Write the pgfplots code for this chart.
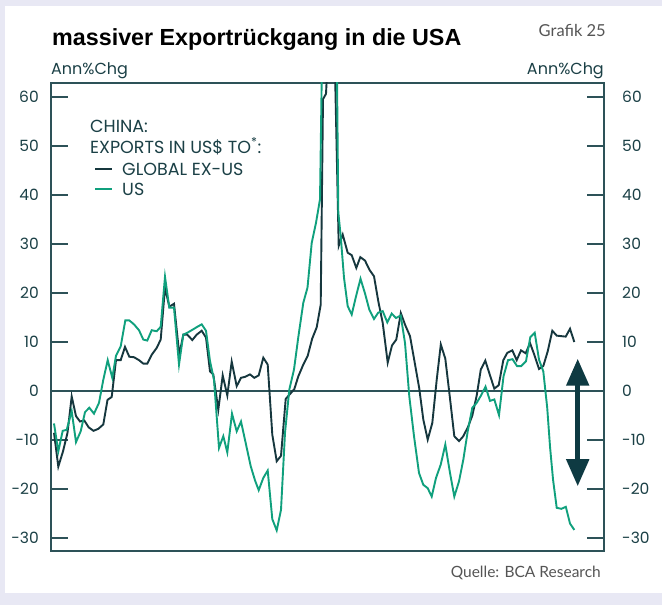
\documentclass[border=0pt]{standalone}
\usepackage{fontspec}
\setmainfont{Poppins}
\newfontfamily\titlefont{Liberation Sans}
\newfontfamily\notefont{Lato}
\usepackage{pgfplots}
\usepackage{pgfplotstable}
\pgfplotsset{compat=1.18}
\usetikzlibrary{arrows.meta}
\definecolor{lav}{RGB}{232,232,244}
\definecolor{darkline}{RGB}{22,55,62}
\definecolor{usgreen}{RGB}{16,160,125}
\definecolor{axiscol}{RGB}{45,82,88}
\definecolor{textcol}{RGB}{27,64,70}
\definecolor{arrowcol}{RGB}{14,58,66}
\definecolor{notecol}{RGB}{85,85,85}

\pgfplotstableread{
x y
54 -8.5
58.3 -15.4
63 -12.3
67.5 -8.5
71.7 -1.1
76 -5.1
80 -6.2
84.3 -6.0
88.7 -7.4
93.5 -8.1
98.3 -7.7
103.3 -6.8
107.5 -1.8
111.7 -1.2
116 6.3
120.7 6.3
125 9.0
129.3 7.0
134 6.9
139 6.3
143.3 5.6
147.3 5.6
151.7 7.4
156.7 8.8
160.7 10.5
165 21.1
169.3 17.2
174 17.8
179.3 7.4
183.3 11.5
187.3 11.5
192.3 10.4
196.7 11.5
201.7 12.3
206 10.9
210 4.0
213.3 3.4
218.3 -3.8
222.7 3.2
227.3 -0.9
231.7 6.0
236.7 1.0
241 2.7
245 2.9
250 3.4
254.3 2.7
258.7 3.2
263.3 6.8
267.7 5.4
272.3 -8.9
276.7 -14.3
281 -13.2
285.7 -1.6
290 -0.6
294.3 0.4
298.3 3.0
303.3 5.4
307.7 7.2
312.2 10.7
316.7 13.0
320.7 17.6
323 59.5
326 60.6
329.5 75
334 75
338.7 29.6
342.7 31.9
347.7 28.2
351.7 27.7
356.3 25.1
360.3 27.3
365 26.6
369.5 24.7
374 23.4
378.3 18.3
382.7 13.9
387.7 5.8
392 9.3
396.3 10.5
400.8 15.9
405.3 13.4
410 11.2
414.7 5.8
419.2 0.6
423.3 -5.8
427.7 -9.9
432.3 -6.5
436.7 2.3
440.8 9.5
445.3 6.6
449.7 -1.0
454.3 -9.2
459 -10.2
463.3 -9.2
468 -7.3
472.3 -5.0
476.7 -0.9
480.8 4.4
485.3 6.2
490 3.2
494.3 0.5
498.7 1.2
503.3 6.3
507.3 7.8
512.3 8.3
516.7 6.3
521 8.3
525.7 7.7
530 9.8
534.3 7.4
539 4.5
543.3 5.1
547.7 8.1
552.3 12.3
556.7 11.3
561 11.2
565.7 11.1
570 12.7
574.3 10.0
}\globaltab

\pgfplotstableread{
x y
54 -6.6
58.3 -12.3
62.7 -8.1
66.7 -7.9
71.7 -4.1
76 -10.4
80.7 -8.2
85 -4.3
89.3 -3.4
94 -4.6
99 -2.4
103.3 2.3
107.7 6.3
112.3 2.7
116 7.2
120.7 9.1
125.3 14.4
129.3 14.4
134 13.6
139 12.4
143.3 10.5
147.3 10.3
151.7 12.4
156.7 12.2
160.7 13.1
165 23.3
169.3 17.0
174 17.0
179 5.4
183.3 11.5
188.3 12.0
193.3 12.6
197.3 13.1
201.7 13.6
206 12.3
210 6.1
214 2.3
219 -11.6
223.3 -9.2
227.3 -12.5
232 -4.6
236.7 -8.2
241 -6.2
245.7 -10.6
250.7 -15.3
255 -18.2
258.7 -20.2
263.3 -17.7
267.7 -16.2
272.3 -26.1
276.7 -28.4
281 -24.2
285 -8.5
289.3 0.3
294 4.4
298.3 11.0
303.3 18.0
307.5 21.1
311.7 30.2
316 34.3
320 39.1
322.5 75
336.5 75
338.3 36.4
340.7 31.6
344 23.1
347.7 17.3
351.7 15.6
356 19.3
360.5 22.9
365 19.9
369.3 16.6
374 14.7
378.3 16.0
382.7 16.3
387.3 14.0
391.7 15.8
396 14.9
400.7 15.4
405 9.8
409.3 -1.1
414 -9.2
419 -16.7
423.3 -19.1
427.7 -19.8
431.7 -21.5
436 -17.7
440.7 -15.0
445.3 -10.9
450 -16.7
454.3 -21.5
459 -18.4
463.3 -14.0
467.7 -8.2
472.3 -3.4
476.7 -2.4
481 -0.9
485.5 0.9
490 -2.0
494.3 -1.7
499 -4.9
503.5 3.0
508 6.3
512.5 6.5
517 5.1
521.3 5.1
526 6.1
530.3 11.0
534.7 11.9
539 6.4
543.3 4.0
547.2 -3.4
550 -11.3
553 -18.0
556.7 -23.8
561.3 -24.0
565.8 -23.6
570 -27.0
574.3 -28.3
}\ustab

\pgfplotsset{
  basestyle/.style={
    width=553bp, height=468bp, scale only axis,
    at={(51bp,54bp)}, anchor=south west,
    xmin=51, xmax=604, ymin=-32.6, ymax=62.8,
    xtick=\empty, ytick={-30,-20,...,60},
    axis line style={axiscol, line width=2bp},
    major tick length=17bp,
    tick style={axiscol, line width=2bp},
    tick align=inside,
    ytick pos=both,
    /pgf/number format/assume math mode=true,
    yticklabel style={font=\fontsize{15.5bp}{18bp}\selectfont, text=textcol, inner sep=0pt},
  }
}

\begin{document}
\begin{tikzpicture}[x=1bp,y=1bp]
\useasboundingbox (0,0) rectangle (662,605);
\fill[lav] (0,0) rectangle (662,605);
\fill[white] (5,12) rectangle (662,599);

\node[anchor=base west, inner sep=0pt, font={\titlefont\bfseries\fontsize{23.3bp}{26bp}\selectfont}] at (52,559) {massiver Exportrückgang in die USA};
\node[anchor=base east, inner sep=0pt, text=notecol, font={\notefont\fontsize{16.5bp}{19bp}\selectfont}] at (606,568) {Grafik 25};
\node[anchor=base west, inner sep=0pt, text=textcol, font={\fontsize{16bp}{19bp}\selectfont}] at (51,530) {Ann\%Chg};
\node[anchor=base east, inner sep=0pt, text=textcol, font={\fontsize{16bp}{19bp}\selectfont}] at (604,530) {Ann\%Chg};
\node[anchor=base east, inner sep=0pt, text=notecol, font={\notefont\fontsize{15.5bp}{18bp}\selectfont}] at (601,27) {Quelle: BCA Research};

\begin{axis}[basestyle, yticklabel pos=right, yticklabel style={xshift=18bp}]
\end{axis}

\begin{axis}[basestyle, yticklabel pos=left, yticklabel style={xshift=-12bp}]
\draw[axiscol, line width=1.6bp] (axis cs:51,0) -- (axis cs:604,0);
\addplot[darkline, line width=1.9bp] table[x=x, y=y]{\globaltab};
\addplot[usgreen, line width=1.9bp] table[x=x, y=y]{\ustab};
% legend
\node[anchor=base west, inner sep=0pt, text=textcol, font={\fontsize{17.5bp}{20bp}\selectfont}] at (axis cs:90,52.75) {CHINA:};
\node[anchor=base west, inner sep=0pt, text=textcol, font={\fontsize{17.5bp}{20bp}\selectfont}] at (axis cs:90,48.5) {EXPORTS IN US\$ TO\textsuperscript{*}:};
\draw[darkline, line width=2.2bp] (axis cs:95,45.3) -- (axis cs:112,45.3);
\node[anchor=base west, inner sep=0pt, text=textcol, font={\fontsize{17.5bp}{20bp}\selectfont}] at (axis cs:122,44.0) {GLOBAL EX-US};
\draw[usgreen, line width=2.2bp] (axis cs:95,41.2) -- (axis cs:112,41.2);
\node[anchor=base west, inner sep=0pt, text=textcol, font={\fontsize{17.5bp}{20bp}\selectfont}] at (axis cs:122,39.9) {US};
\draw[arrowcol, line width=5bp, {Triangle[width=22bp,length=27bp]}-{Triangle[width=22bp,length=27bp]}] (axis cs:577.7,6.6) -- (axis cs:577.7,-19.4);
\end{axis}
\end{tikzpicture}
\end{document}
